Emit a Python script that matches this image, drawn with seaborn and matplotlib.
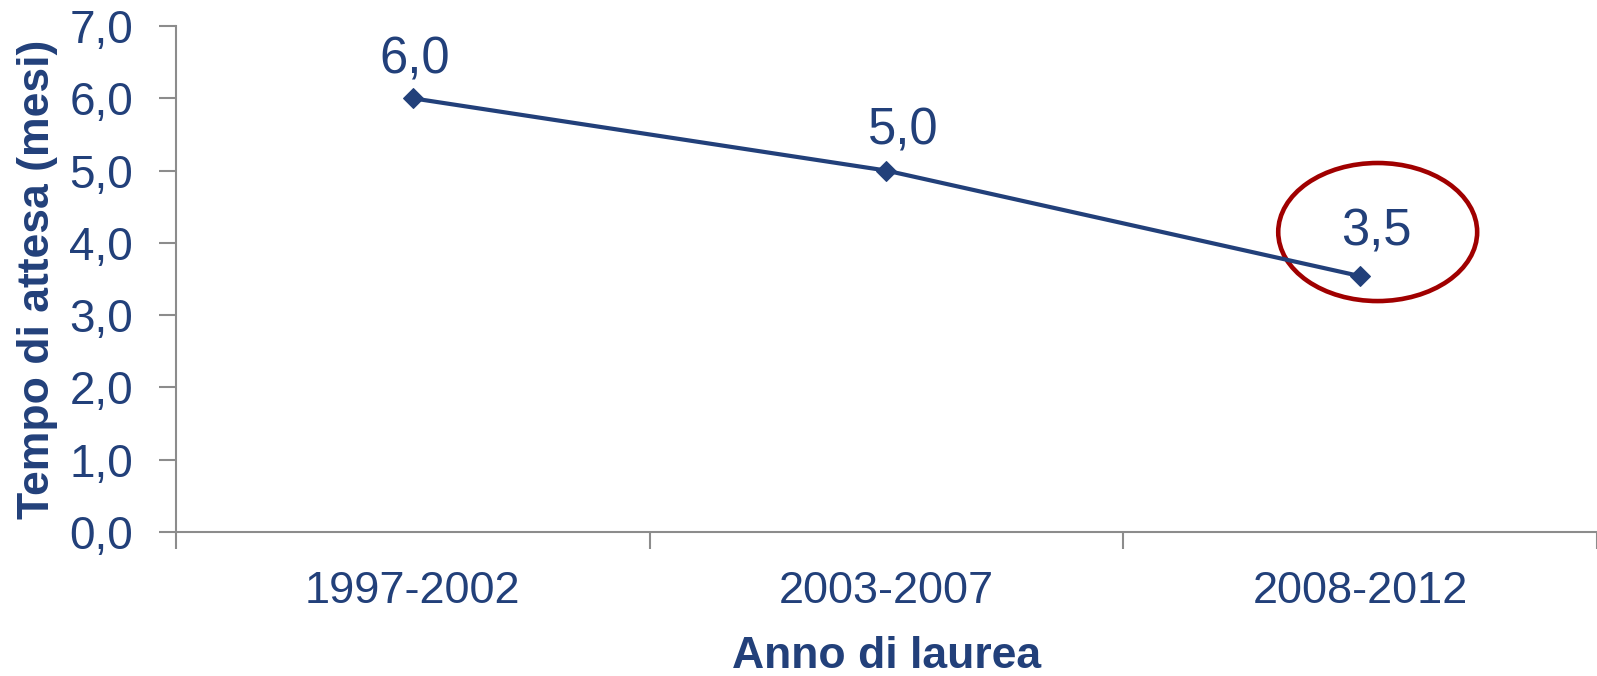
import pandas as pd
import matplotlib
matplotlib.use('Agg')
import matplotlib.pyplot as plt
import seaborn as sns
from matplotlib.patches import Ellipse

# data
periodi = ['1997-2002', '2003-2007', '2008-2012']
mesi = [6.0, 5.0, 3.54]
etichette = ['6,0', '5,0', '3,5']
y_ticks = [0, 1, 2, 3, 4, 5, 6, 7]

blu = '#22407A'
grigio = '#8C8C8C'

sns.set_theme(style='white')
plt.rcParams['font.family'] = ['Liberation Sans', 'DejaVu Sans']

data = pd.DataFrame({'Periodo': range(len(periodi)), 'Mesi': mesi})

fig = plt.figure(figsize=(15.97, 6.76), dpi=100)
ax = fig.add_axes([0.1102, 0.213, 0.8898, 0.7485])

sns.lineplot(data=data, x='Periodo', y='Mesi', ax=ax, color=blu, linewidth=3,
             marker='D', markersize=10, markeredgecolor=blu, sort=False)

# data labels (offsets in points, as placed in the original)
offsets = [(1, 18), (12, 19), (12, 22)]
for i, (v, lab) in enumerate(zip(mesi, etichette)):
    ax.annotate(lab, (i, v), xytext=offsets[i], textcoords='offset points',
                ha='center', va='baseline', fontsize=36.5, color=blu)

# red ellipse around last value
ax.add_patch(Ellipse((2.037, 4.15), 0.42, 1.91, fill=False,
                     edgecolor='#A00000', linewidth=3.3, clip_on=False))

# axes format
ax.set_xlim(-0.5, 2.5)
ax.set_ylim(0, 7)
ax.set_xticks([-0.5, 0.5, 1.5, 2.5])
ax.set_xticklabels([])
ax.set_xticks(range(len(periodi)), minor=True)
ax.set_xticklabels(periodi, minor=True)
ax.set_yticks(y_ticks)
ax.set_yticklabels([f'{v:.1f}'.replace('.', ',') for v in y_ticks])

ax.tick_params(axis='both', which='major', direction='out', length=12, width=1.5,
               color=grigio, labelsize=33, labelcolor=blu, left=True, bottom=True)
ax.tick_params(axis='x', which='minor', length=0, labelsize=32.5, labelcolor=blu, pad=28)
ax.tick_params(axis='y', which='major', pad=19)

for s in ['top', 'right']:
    ax.spines[s].set_visible(False)
for s in ['left', 'bottom']:
    ax.spines[s].set_color(grigio)
    ax.spines[s].set_linewidth(1.5)

ax.set_xlabel('Anno di laurea', fontsize=32, fontweight='bold', color=blu, labelpad=17)
ax.set_ylabel('Tempo di attesa (mesi)', fontsize=32, fontweight='bold', color=blu, labelpad=8)

plt.savefig('out.png', dpi=100)
plt.close()
